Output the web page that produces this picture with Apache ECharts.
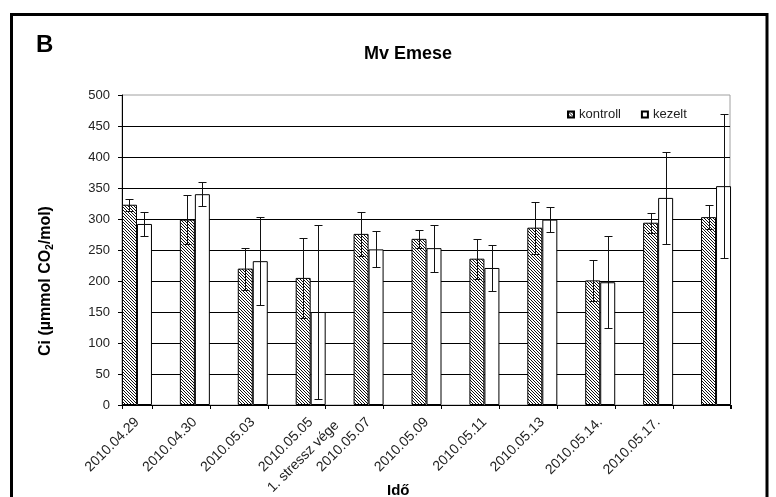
<!DOCTYPE html>
<html><head><meta charset="utf-8">
<script src="https://cdn.jsdelivr.net/npm/echarts@6/dist/echarts.min.js"></script>
<style>html,body{margin:0;padding:0;background:#fff}#c{width:776px;height:497px}</style>
</head><body><div id="c"></div>
<script>
const categories = ['2010.04.29', '2010.04.30', '2010.05.03', '2010.05.05', '2010.05.07', '2010.05.09', '2010.05.11', '2010.05.13', '2010.05.14.', '2010.05.17.', ''];
const noteLabels = ['', '', '', '1. stressz vége', '', '', '', '', '', '', ''];
const kontroll = [323, 299, 220, 205, 276, 268, 236, 286, 201, 294, 303];
const kontrollErr = [10, 40, 34, 64, 35, 15, 32, 42, 33, 16, 19];
const kezelt = [292, 340, 232, 150, 251, 253, 221, 299, 198, 334, 353];
const kezeltErr = [19, 19, 71, 140, 29, 38, 37, 20, 74, 74, 116];
const yMin = 0, yMax = 500, yStep = 50;

const FONT = '"Liberation Sans", Arial, sans-serif';

function hatch() {
  const n = 3;
  const c = document.createElement('canvas');
  c.width = n; c.height = n;
  const ctx = c.getContext('2d');
  ctx.fillStyle = '#fff'; ctx.fillRect(0, 0, n, n);
  ctx.fillStyle = '#111';
  for (let i = 0; i < n; i++) { ctx.fillRect(i, i, 1, 1); }
  return c;
}

function errSeries(vals, errs, offset) {
  return {
    type: 'custom', xAxisIndex: 0, yAxisIndex: 0, z: 5, silent: true,
    data: vals.map((v, i) => [i, v, errs[i]]),
    encode: { x: 0, y: 1 },
    renderItem(params, api) {
      const i = api.value(0), v = api.value(1), e = api.value(2);
      const p1 = api.coord([i, v + e]), p2 = api.coord([i, v - e]);
      const x = Math.round(p1[0] + offset) + 0.5;
      const y1 = Math.round(p1[1]) + 0.5, y2 = Math.round(p2[1]) + 0.5;
      const st = { stroke: '#111', lineWidth: 1 };
      return { type: 'group', children: [
        { type: 'line', shape: { x1: x, y1: y1, x2: x, y2: y2 }, style: st },
        { type: 'line', shape: { x1: x - 4, y1: y1, x2: x + 4, y2: y1 }, style: st },
        { type: 'line', shape: { x1: x - 4, y1: y2, x2: x + 4, y2: y2 }, style: st }
      ]};
    }
  };
}

const chart = echarts.init(document.getElementById('c'), null, { renderer: 'canvas' });
const pattern = { image: hatch(), repeat: 'repeat' };

chart.setOption({
  animation: false,
  backgroundColor: '#fff',
  textStyle: { fontFamily: FONT },
  title: [
    { text: 'B', left: 36, top: 33, padding: 0, textStyle: { fontSize: 24, fontWeight: 'bold', color: '#000', fontFamily: FONT } },
    { text: 'Mv Emese', left: 359, top: 40, textStyle: { fontSize: 18, fontWeight: 'bold', color: '#000', fontFamily: FONT } },
    { text: 'Idő', left: 382, top: 478, textStyle: { fontSize: 15, fontWeight: 'bold', color: '#000', fontFamily: FONT } }
  ],
  legend: {
    data: ['kontroll', 'kezelt'], left: 567, top: 108, padding: 0, icon: 'rect',
    itemWidth: 6, itemHeight: 6, itemGap: 20,
    textStyle: { fontSize: 13, color: '#222', fontFamily: FONT }
  },
  graphic: [{
    type: 'rect', silent: true, z: 100,
    shape: { x: 11.5, y: 14.5, width: 755.5, height: 520 },
    style: { fill: 'none', stroke: '#000', lineWidth: 3 }
  }],
  grid: [
    { left: 108, right: 31, top: 95, bottom: 92 },                    // bars + labels
    { left: 122, right: 46, top: 95, bottom: 92, show: true, borderColor: '#a0a0a0', borderWidth: 1, backgroundColor: 'transparent' }, // frame
    { left: 152, right: 45, top: 95, bottom: 92 },                    // x ticks
    { left: 134, right: 5, top: 95, bottom: 92 },                     // annotation label
    { left: 122, right: 46, top: 126, bottom: 61 }                    // y-axis title
  ],
  xAxis: [
    { type: 'category', gridIndex: 0, data: categories, boundaryGap: true,
      axisLine: { show: false }, axisTick: { show: false }, splitLine: { show: false },
      axisLabel: { rotate: 45, interval: 0, margin: 15, fontSize: 14, color: '#222', fontFamily: FONT } },
    { type: 'value', gridIndex: 1, min: 0, max: 1, interval: 1,
      axisLine: { show: true, lineStyle: { color: '#000', width: 1 } },
      axisTick: { show: true, length: 4, lineStyle: { color: '#000' } },
      axisLabel: { show: false }, splitLine: { show: false } },
    { type: 'value', gridIndex: 2, min: 0, max: 10, interval: 1,
      axisLine: { show: false },
      axisTick: { show: true, length: 4, lineStyle: { color: '#000' } },
      axisLabel: { show: false }, splitLine: { show: false } },
    { type: 'category', gridIndex: 3, data: noteLabels, boundaryGap: true,
      axisLine: { show: false }, axisTick: { show: false }, splitLine: { show: false },
      axisLabel: { rotate: 45, interval: 0, margin: 19, fontSize: 14, color: '#222', fontFamily: FONT } },
    { type: 'value', gridIndex: 4, show: false, min: 0, max: 1 }
  ],
  yAxis: [
    { type: 'value', gridIndex: 0, min: yMin, max: yMax, interval: yStep, show: false, splitLine: { show: false } },
    { type: 'value', gridIndex: 1, min: yMin, max: yMax, interval: yStep,
      axisLine: { show: true, lineStyle: { color: '#000', width: 1 } },
      axisTick: { show: true, length: 4, lineStyle: { color: '#000' } },
      axisLabel: { margin: 12, fontSize: 13, color: '#222', fontFamily: FONT },
      splitLine: { show: true, showMinLine: false, showMaxLine: false, lineStyle: { color: '#000', width: 1 } } },
    { type: 'value', gridIndex: 2, min: 0, max: 1, show: false },
    { type: 'value', gridIndex: 3, min: 0, max: 1, show: false },
    { type: 'value', gridIndex: 4, min: 0, max: 1,
      axisLine: { show: false }, axisTick: { show: false }, axisLabel: { show: false }, splitLine: { show: false },
      name: '{b|Ci (µmmol CO}{s|2}{b|/mol)}', nameLocation: 'middle', nameRotate: 90, nameGap: 67,
      nameTextStyle: { rich: {
        b: { fontSize: 16, fontWeight: 'bold', color: '#000', fontFamily: FONT, lineHeight: 19 },
        s: { fontSize: 10, fontWeight: 'bold', color: '#000', fontFamily: FONT, lineHeight: 19, verticalAlign: 'bottom' }
      } } }
  ],
  series: [
    { name: 'kontroll', type: 'bar', xAxisIndex: 0, yAxisIndex: 0, data: kontroll, barWidth: 15, barGap: '0%',
      itemStyle: { color: pattern, borderColor: '#000', borderWidth: 1 } },
    { name: 'kezelt', type: 'bar', xAxisIndex: 0, yAxisIndex: 0, data: kezelt, barWidth: 15, barGap: '0%',
      itemStyle: { color: '#fff', borderColor: '#000', borderWidth: 1 } },
    errSeries(kontroll, kontrollErr, -7.5),
    errSeries(kezelt, kezeltErr, 7.5)
  ]
});
</script></body></html>
